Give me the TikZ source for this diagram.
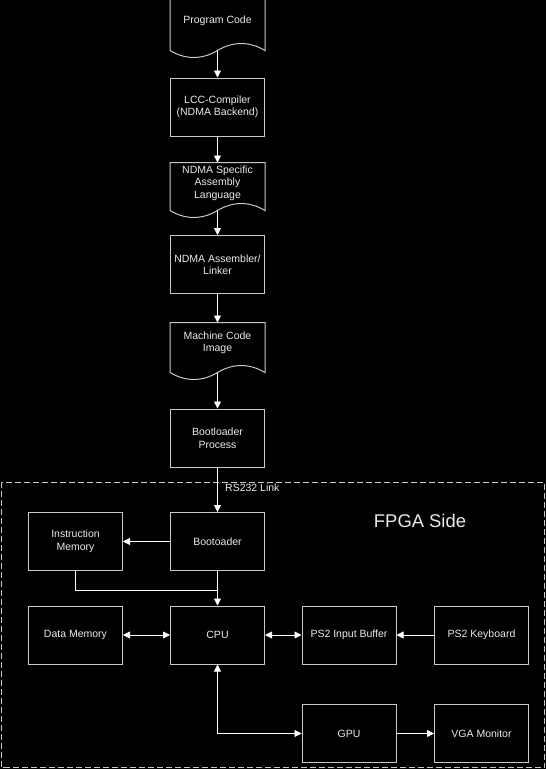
\documentclass[tikz,border=0pt]{standalone}
\usepackage{fontspec}
\setmainfont{Liberation Sans}
\usetikzlibrary{arrows.meta}
\definecolor{boxgray}{RGB}{200,200,200}
\definecolor{txtgray}{RGB}{235,235,235}

\tikzset{
  block/.style={draw=boxgray,line width=1pt,minimum width=94pt,minimum height=58pt,
    align=center,text=txtgray,font=\fontsize{10.5}{12.5}\selectfont,inner sep=2pt},
  document/.style={block,draw=none},
  link/.style={white,line width=0.8pt,-{Triangle[length=7pt,width=7pt]}},
  dlink/.style={link,{Triangle[length=7pt,width=7pt]}-{Triangle[length=7pt,width=7pt]}}
}

% outline of a document node: #1 node, #2 drop of the straight sides below its south
\newcommand{\docline}[2]{%
  \draw[boxgray,line width=1pt] (#1.north west) -- (#1.north east) -- ([yshift=-#2]#1.south east)
    .. controls +(-15.5pt,9.3pt) and +(15.5pt,9.3pt) .. ([yshift=-#2]#1.south)
    .. controls +(-15.5pt,-9.3pt) and +(15.5pt,-9.3pt) .. ([yshift=-#2]#1.south west) -- cycle;}

\begin{document}
\begin{tikzpicture}[x=1pt,y=-1pt]
  \fill[black] (0,0) rectangle (546,769);
  \useasboundingbox (0,0) rectangle (546,769);

  % tool chain on the host
  \node[document,minimum height=44pt] (prog) at (217.5,21) {Program Code};
  \node[block] (lcc) at (217.5,107) {LCC-Compiler\\(NDMA Backend)};
  \node[document,minimum height=40pt] (asm) at (217.5,183) {NDMA Specific\\Assembly\\Language};
  \node[block] (assembler) at (217.5,264.5) {NDMA Assembler/\\Linker};
  \node[document,minimum height=40pt] (mach) at (217.5,343) {Machine Code\\Image};
  \node[block] (bootp) at (217.5,438) {Bootloader\\Process};
  \docline{prog}{7pt}
  \docline{asm}{7pt}
  \docline{mach}{9pt}

  % fpga side
  \draw[boxgray,line width=1pt,dash pattern=on 6pt off 3pt] (1,482) rectangle (544.5,767.5);
  \node[text=txtgray,font=\fontsize{18.4}{22}\selectfont] (fpga) at (420,521) {FPGA Side};

  \node[block] (boot) at (217.5,541.5) {Bootoader};
  \node[block] (imem) at (75.5,541.5) {Instruction\\Memory};
  \node[block] (cpu) at (217.5,635) {CPU};
  \node[block] (dmem) at (75.5,635) {Data Memory};
  \node[block] (ps2buf) at (349,635) {PS2 Input Buffer};
  \node[block] (kbd) at (481.5,635) {PS2 Keyboard};
  \node[block] (gpu) at (349,733.5) {GPU};
  \node[block] (vga) at (481.5,733.5) {VGA Monitor};
  \coordinate (join) at (217.5,590);

  \draw[link] ([yshift=-7pt]prog.south) -- (lcc.north);
  \draw[link] (lcc) -- (asm.north);
  \draw[link] ([yshift=-7pt]asm.south) -- (assembler.north);
  \draw[link] (assembler) -- (mach.north);
  \draw[link] ([yshift=-9pt]mach.south) -- (bootp.north);
  \draw[link] (bootp) -- node[pos=0.45,right,xshift=4pt,text=txtgray,font=\fontsize{10.5}{12.5}\selectfont] {RS232 Link} (boot);
  \draw[link] (boot) -- (imem);
  \draw[link] (boot) -- (cpu);
  \draw[white,line width=0.8pt] (imem.south) |- (join);
  \draw[dlink] (dmem) -- (cpu);
  \draw[dlink] (cpu) -- (ps2buf);
  \draw[link] (kbd) -- (ps2buf);
  \draw[dlink] (cpu.south) |- (gpu.west);
  \draw[link] (gpu) -- (vga);
\end{tikzpicture}
\end{document}
